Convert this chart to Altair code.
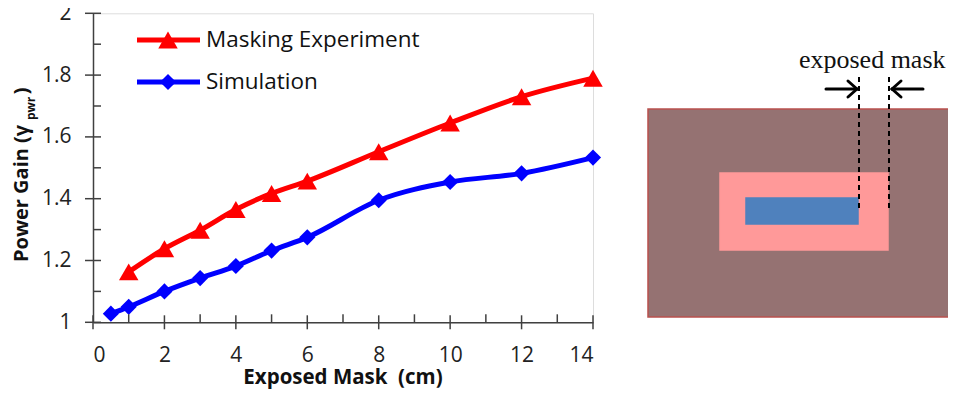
import altair as alt
import pandas as pd

# ---------------- data ----------------
x_exp = [1, 2, 3, 4, 5, 6, 8, 10, 12, 14]
y_exp = [1.163, 1.238, 1.298, 1.365, 1.417, 1.457, 1.552, 1.645, 1.730, 1.790]
x_sim = [0.5, 1, 2, 3, 4, 5, 6, 8, 10, 12, 14]
y_sim = [1.028, 1.050, 1.100, 1.143, 1.182, 1.232, 1.275, 1.395, 1.454, 1.482, 1.533]

x_major = [0, 2, 4, 6, 8, 10, 12, 14]
x_minor = [1, 3, 5, 7, 9, 11, 13]
y_major = [1.0, 1.2, 1.4, 1.6, 1.8, 2.0]
y_minor = [1.1, 1.3, 1.5, 1.7, 1.9]

series_names = ["Masking Experiment", "Simulation"]

# diagram (units: px-like, relative to outer mask box)
box_x1 = [0, 72, 98]
box_x2 = [305, 240, 210]
box_y1 = [0, 64, 89]
box_y2 = [208, 141, 115]
box_fill = ["#957272", "#FF9999", "#4F81BD"]
box_stroke = ["#B9504D", "#FF9999", "#4F81BD"]

dash_x = [211, 241]
dash_y1 = [-32, -32]
dash_y2 = [103, 103]

arrow_x1 = [178, 209, 209, 275, 244, 244]
arrow_y1 = [-20, -20, -20, -20, -20, -20]
arrow_x2 = [209, 200, 200, 244, 253, 253]
arrow_y2 = [-20, -28, -12, -20, -28, -12]

label_text = ["exposed mask"]
label_x = [151]
label_y = [-41]

# ---------------- sizes ----------------
W, H = 500, 309
FONT = "Open Sans"
AX = "#404040"

df_exp = pd.DataFrame({"x": x_exp, "y": y_exp})
df_sim = pd.DataFrame({"x": x_sim, "y": y_sim})

xs = alt.Scale(domain=[0, 14], nice=False, zero=False)
ys = alt.Scale(domain=[1, 2], nice=False, zero=False)

x_axis = alt.Axis(values=x_major, format="d", ticks=False, tickSize=0, grid=False,
                  domainColor=AX, domainWidth=1.5, labelFont=FONT, labelFontSize=21,
                  labelColor="#222222", labelPadding=22, title=None)
y_axis = alt.Axis(values=y_major, ticks=False, tickSize=0, grid=False,
                  domainColor=AX, domainWidth=1.5, labelFont=FONT, labelFontSize=21,
                  labelColor="#222222", labelPadding=22, title=None,
                  labelExpr="datum.value == 1 || datum.value == 2 ? format(datum.value, 'd') : format(datum.value, '.1f')")

def line_layer(df, color):
    return alt.Chart(df).mark_line(color=color, strokeWidth=5, interpolate="monotone").encode(
        x=alt.X("x:Q", scale=xs, axis=x_axis),
        y=alt.Y("y:Q", scale=ys, axis=y_axis),
    )

def point_layer(df, color, shape, size):
    return alt.Chart(df).mark_point(color=color, fill=color, filled=True, opacity=1,
                                     shape=shape, size=size).encode(
        x=alt.X("x:Q", scale=xs), y=alt.Y("y:Q", scale=ys))

red, blue = "#FF0000", "#0000FF"

# tick marks
xmaj = alt.Chart(pd.DataFrame({"x": x_major})).mark_rule(color=AX, strokeWidth=1.5).encode(
    x=alt.X("x:Q", scale=xs), y=alt.value(H - 7), y2=alt.value(H + 7))
xmin = alt.Chart(pd.DataFrame({"x": x_minor})).mark_rule(color=AX, strokeWidth=1.5).encode(
    x=alt.X("x:Q", scale=xs), y=alt.value(H - 8), y2=alt.value(H))
ymaj = alt.Chart(pd.DataFrame({"y": y_major})).mark_rule(color=AX, strokeWidth=1.5).encode(
    y=alt.Y("y:Q", scale=ys), x=alt.value(-8), x2=alt.value(8))
ymin = alt.Chart(pd.DataFrame({"y": y_minor})).mark_rule(color=AX, strokeWidth=1.5).encode(
    y=alt.Y("y:Q", scale=ys), x=alt.value(0), x2=alt.value(8))

# legend (manual)
def legend_item(name, color, shape, size, ypix):
    d = alt.Chart(pd.DataFrame({"name": [name]}))
    ln = d.mark_rule(color=color, strokeWidth=5).encode(
        x=alt.value(44), x2=alt.value(107), y=alt.value(ypix))
    pt = d.mark_point(color=color, fill=color, filled=True, opacity=1, shape=shape, size=size).encode(
        x=alt.value(75), y=alt.value(ypix))
    tx = d.mark_text(align="left", baseline="middle", font=FONT, fontSize=22.5, color="#111111").encode(
        x=alt.value(113), y=alt.value(ypix), text="name:N")
    return ln + pt + tx

# axis titles (manual for subscript)
ttl = alt.Chart(pd.DataFrame({"t": ["Exposed Mask\u00a0 (cm)"]})).mark_text(
    align="center", baseline="middle", font=FONT, fontSize=20.5, fontWeight="bold", color="#111111"
).encode(x=alt.value(W / 2), y=alt.value(365), text="t:N")

yt1 = alt.Chart(pd.DataFrame({"t": ["Power Gain (\u03b3"]})).mark_text(
    align="left", baseline="alphabetic", angle=270, font=FONT, fontSize=20, fontWeight="bold", color="#111111"
).encode(x=alt.value(-65.3), y=alt.value(248.7), text="t:N")
yt2 = alt.Chart(pd.DataFrame({"t": ["pwr"]})).mark_text(
    align="left", baseline="alphabetic", angle=270, font=FONT, fontSize=12, fontWeight="bold", color="#111111"
).encode(x=alt.value(-58.5), y=alt.value(106.7), text="t:N")
yt3 = alt.Chart(pd.DataFrame({"t": [")"]})).mark_text(
    align="left", baseline="alphabetic", angle=270, font=FONT, fontSize=20, fontWeight="bold", color="#111111"
).encode(x=alt.value(-65.3), y=alt.value(81), text="t:N")

main = alt.layer(
    line_layer(df_exp, red), line_layer(df_sim, blue),
    point_layer(df_exp, red, "triangle-up", 380), point_layer(df_sim, blue, "diamond", 260),
    xmaj, xmin, ymaj, ymin,
    legend_item(series_names[0], red, "triangle-up", 380, 26.7),
    legend_item(series_names[1], blue, "diamond", 260, 68.7),
    ttl, yt1, yt2, yt3,
)

# ---------------- diagram ----------------
dxs = alt.Scale(domain=[0, 305], range=[555, 860], nice=False, zero=False)
dys = alt.Scale(domain=[0, 208], range=[95.7, 303.7], nice=False, zero=False)

boxes = pd.DataFrame({"x1": box_x1, "x2": box_x2, "y1": box_y1, "y2": box_y2,
                      "fill": box_fill, "stroke": box_stroke, "o": [0, 1, 2]})
rects = alt.Chart(boxes).mark_rect(strokeWidth=1.5).encode(
    x=alt.X("x1:Q", scale=dxs, axis=None), x2="x2:Q",
    y=alt.Y("y1:Q", scale=dys, axis=None), y2="y2:Q",
    fill=alt.Fill("fill:N", scale=None), stroke=alt.Stroke("stroke:N", scale=None),
    order="o:Q",
)
dashes = alt.Chart(pd.DataFrame({"x": dash_x, "y1": dash_y1, "y2": dash_y2})).mark_rule(
    color="#000000", strokeWidth=2, strokeDash=[5, 4]).encode(
    x=alt.X("x:Q", scale=dxs, axis=None), y=alt.Y("y1:Q", scale=dys, axis=None), y2="y2:Q")
arrows = alt.Chart(pd.DataFrame({"x1": arrow_x1, "y1": arrow_y1, "x2": arrow_x2, "y2": arrow_y2})).mark_rule(
    color="#000000", strokeWidth=3, strokeCap="round").encode(
    x=alt.X("x1:Q", scale=dxs, axis=None), x2="x2:Q",
    y=alt.Y("y1:Q", scale=dys, axis=None), y2="y2:Q")
lbl = alt.Chart(pd.DataFrame({"t": label_text, "x": label_x, "y": label_y})).mark_text(
    align="left", baseline="alphabetic", font="Liberation Serif", fontSize=26, color="#111111").encode(
    x=alt.X("x:Q", scale=dxs, axis=None), y=alt.Y("y:Q", scale=dys, axis=None), text="t:N")

diagram = alt.layer(rects, dashes, arrows, lbl)

chart = alt.layer(main, diagram).resolve_scale(x="independent", y="independent").properties(
    width=W, height=H,
    padding={"left": 85, "top": 5.3, "right": 355, "bottom": 67.5},
    autosize=alt.AutoSizeParams(type="none"),
).configure_view(stroke=None).configure(background="white")

chart.save("out.html", embed_options={"renderer": "svg", "actions": False})
